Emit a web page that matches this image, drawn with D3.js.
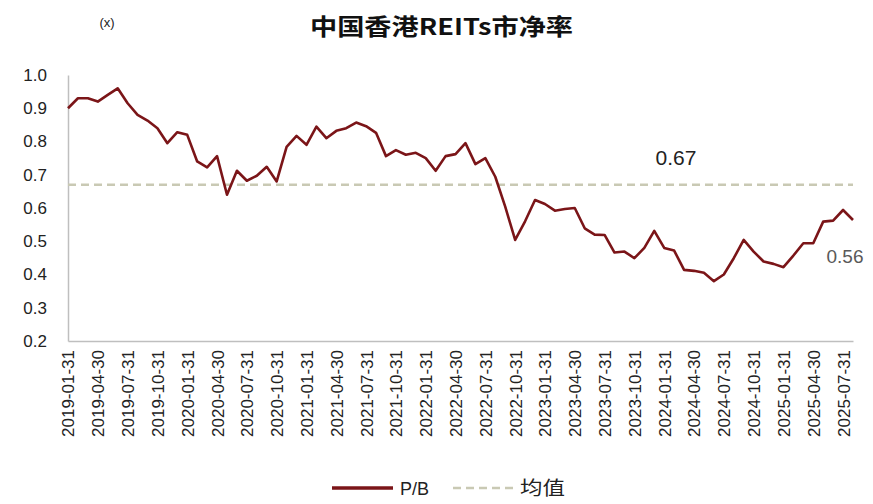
<!DOCTYPE html>
<html>
<head>
<meta charset="utf-8">
<script src="https://cdn.jsdelivr.net/npm/d3@7"></script>
<style>
  body { margin: 0; background: #fff; }
  svg { display: block; }
</style>
</head>
<body>
<svg id="chart" width="873" height="504"></svg>
<script>
// P/B, month-end, 2019-01 .. 2025-08
const pbValues = [
  0.90, 0.93, 0.93, 0.92, 0.94, 0.96, 0.915, 0.88, 0.863, 0.84, 0.795, 0.828,
  0.82, 0.74, 0.722, 0.756, 0.64, 0.712, 0.682, 0.697, 0.724, 0.68, 0.784, 0.817,
  0.79, 0.845, 0.81, 0.832, 0.84, 0.857, 0.846, 0.826, 0.756, 0.774, 0.76, 0.766,
  0.75, 0.712, 0.756, 0.762, 0.795, 0.732, 0.75, 0.694, 0.604, 0.504, 0.56, 0.624,
  0.612, 0.592, 0.597, 0.60, 0.539, 0.52, 0.519, 0.466, 0.469, 0.449, 0.48, 0.531,
  0.48, 0.472, 0.414, 0.411, 0.405, 0.38, 0.40, 0.449, 0.504, 0.469, 0.439, 0.432,
  0.422, 0.457, 0.494, 0.494, 0.559, 0.562, 0.594, 0.564
]
const meanValue = 0.67
const lastLabel = "0.56"
const yTicks = [0.2, 0.3, 0.4, 0.5, 0.6, 0.7, 0.8, 0.9, 1.0]

// month-end dates as categories
const fmt = d3.timeFormat("%Y-%m-%d")
const months = d3.timeMonth.range(new Date(2019, 1, 1), new Date(2025, 9, 1))
  .map(d => fmt(d3.timeDay.offset(d, -1)))
const tickLabels = months.filter((d, i) => i % 3 === 0)

const data = months.map((d, i) => ({ date: d, pb: pbValues[i] }))

const svg = d3.select("#chart")
const margin = { top: 75, right: 20, bottom: 163, left: 68 }
const width = 873, height = 504

const x = d3.scalePoint()
  .domain(months)
  .range([margin.left, 853])

const y = d3.scaleLinear()
  .domain([0.2, 1.0])
  .range([height - margin.bottom, margin.top])

const font = "'Liberation Sans', Arial, sans-serif"
const cjk = "'Noto Sans CJK SC', 'Liberation Sans', sans-serif"

// title
svg.append("text")
  .attr("x", 310).attr("y", 35)
  .attr("font-family", cjk)
  .attr("font-weight", "bold")
  .attr("font-size", 23)
  .attr("textLength", 263)
  .attr("lengthAdjust", "spacingAndGlyphs")
  .attr("fill", "#111")
  .text("中国香港REITs市净率")

svg.append("text")
  .attr("x", 107).attr("y", 27)
  .attr("text-anchor", "middle")
  .attr("font-family", font)
  .attr("font-size", 13)
  .attr("fill", "#222")
  .text("(x)")

// y axis
const yAxis = svg.append("g")
  .attr("transform", `translate(${margin.left},0)`)
  .call(d3.axisLeft(y).tickValues(yTicks).tickFormat(d3.format(".1f")).tickSize(0).tickPadding(21))
yAxis.select(".domain").attr("stroke", "#bfbfbf").attr("stroke-width", 1.5)
yAxis.selectAll("text")
  .attr("font-family", font)
  .attr("font-size", 17)
  .attr("fill", "#222")

// x axis
const xAxis = svg.append("g")
  .attr("transform", `translate(0,${y(0.2)})`)
  .call(d3.axisBottom(x).tickValues(tickLabels).tickSize(0).tickPadding(0))
xAxis.select(".domain").attr("stroke", "#bfbfbf").attr("stroke-width", 1.5)
xAxis.selectAll("text")
  .attr("font-family", font)
  .attr("font-size", 17)
  .attr("fill", "#222")
  .attr("text-anchor", "end")
  .attr("dy", "0.35em")
  .attr("transform", "translate(0,9) rotate(-90)")

// mean line
svg.append("line")
  .attr("x1", x(months[0])).attr("x2", x(months[months.length - 1]))
  .attr("y1", y(meanValue)).attr("y2", y(meanValue))
  .attr("stroke", "#c9c9b4")
  .attr("stroke-width", 2.5)
  .attr("stroke-dasharray", "8,5")

// P/B line
const line = d3.line()
  .x(d => x(d.date))
  .y(d => y(d.pb))

svg.append("path")
  .datum(data)
  .attr("fill", "none")
  .attr("stroke", "#7b1518")
  .attr("stroke-width", 2.6)
  .attr("stroke-linejoin", "round")
  .attr("d", line)

// annotations
svg.append("text")
  .attr("x", 676).attr("y", 165)
  .attr("text-anchor", "middle")
  .attr("font-family", font)
  .attr("font-size", 21)
  .attr("fill", "#222")
  .text(d3.format(".2f")(meanValue))

svg.append("text")
  .attr("x", 845).attr("y", 263)
  .attr("text-anchor", "middle")
  .attr("font-family", font)
  .attr("font-size", 19)
  .attr("fill", "#595959")
  .text(lastLabel)

// legend
const lg = svg.append("g").attr("transform", "translate(0,488)")
lg.append("line")
  .attr("x1", 332).attr("x2", 393)
  .attr("stroke", "#7b1518").attr("stroke-width", 3.3)
lg.append("text")
  .attr("x", 400).attr("y", 6.5)
  .attr("font-family", font).attr("font-size", 18).attr("fill", "#222")
  .text("P/B")
lg.append("line")
  .attr("x1", 453).attr("x2", 515)
  .attr("stroke", "#c9c9b4").attr("stroke-width", 2.5)
  .attr("stroke-dasharray", "8,5")
lg.append("text")
  .attr("x", 520).attr("y", 7)
  .attr("font-family", cjk).attr("font-size", 19)
  .attr("textLength", 45).attr("lengthAdjust", "spacingAndGlyphs")
  .attr("fill", "#222")
  .text("均值")
</script>
</body>
</html>
